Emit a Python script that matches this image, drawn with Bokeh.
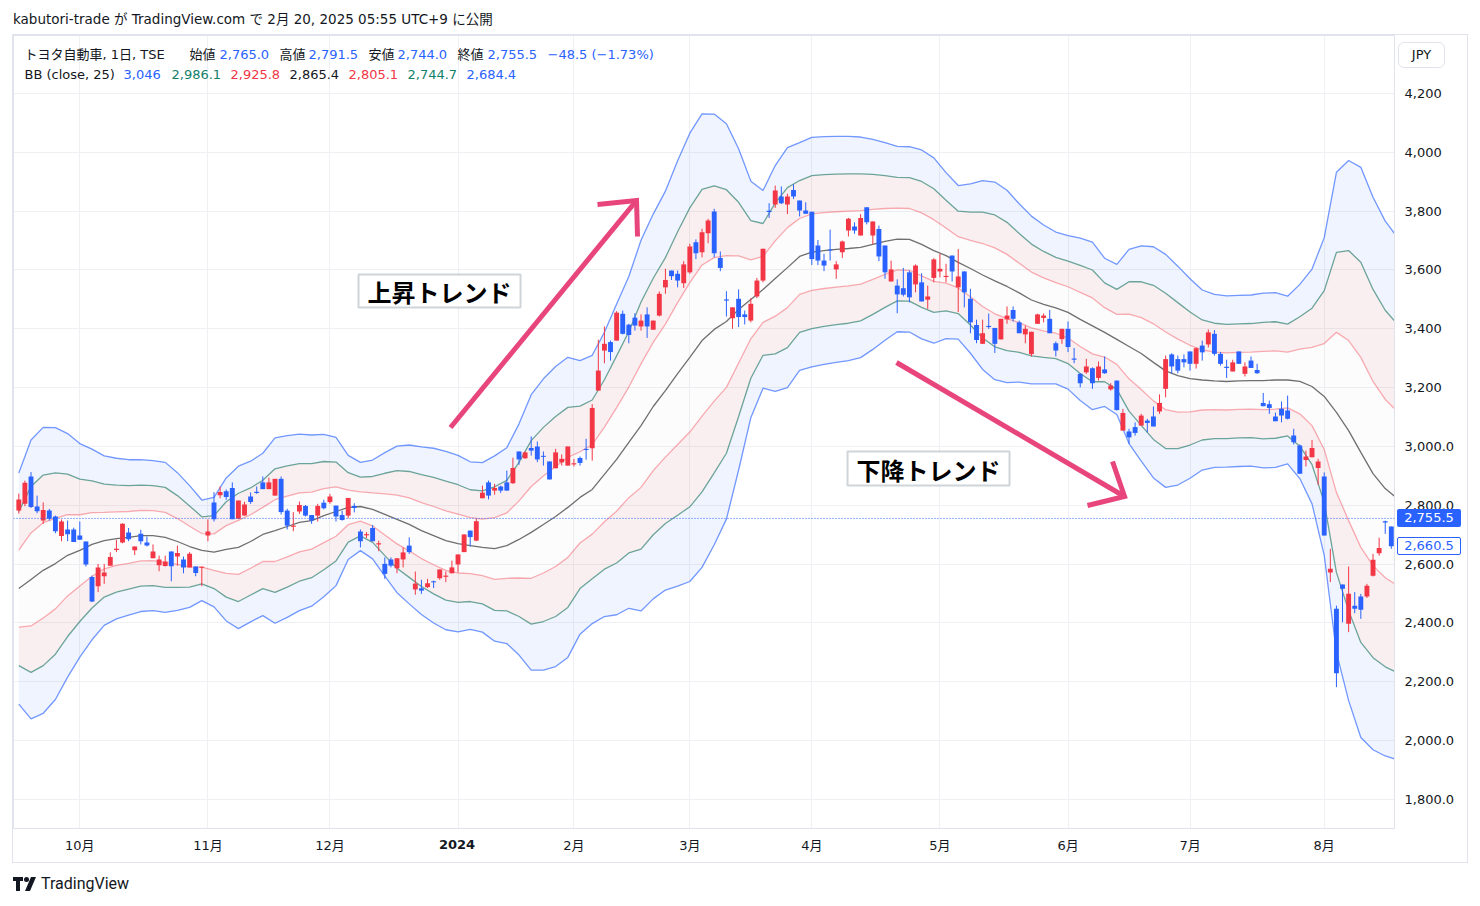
from bokeh.plotting import figure
from bokeh.models import FixedTicker, Span, Label, BoxAnnotation, Div, Range1d, ColumnDataSource
from bokeh.layouts import column
from bokeh.embed import file_html
from bokeh.resources import INLINE

# ---------------- data ----------------
month_ticks = [10, 31, 51, 72, 91, 110, 130, 151, 172, 192, 214]
month_labels = ["10月", "11月", "12月", "2024", "2月", "3月", "4月", "5月", "6月", "7月", "8月"]
price_ticks = [1800, 2000, 2200, 2400, 2600, 2800, 3000, 3200, 3400, 3600, 3800, 4000, 4200]
price_tick_labels = ["1,800.0", "2,000.0", "2,200.0", "2,400.0", "2,600.0", "2,800.0", "3,000.0",
                     "3,200", "3,400", "3,600", "3,800", "4,000", "4,200"]

opens = [2782, 2805, 2898, 2796, 2748, 2782, 2762, 2696, 2718, 2718,
         2697, 2677, 2556, 2525, 2559, 2595, 2648, 2674, 2708, 2647,
         2703, 2674, 2620, 2596, 2594, 2643, 2626, 2616, 2589, 2592,
         2588, 2697, 2810, 2834, 2848, 2859, 2754, 2765, 2830, 2846,
         2878, 2855, 2833, 2890, 2782, 2727, 2779, 2798, 2767, 2765,
         2809, 2811, 2799, 2767, 2765, 2798, 2711, 2698, 2723, 2667,
         2601, 2616, 2586, 2616, 2663, 2514, 2518, 2522, 2541, 2552,
         2557, 2569, 2599, 2641, 2714, 2680, 2824, 2878, 2850, 2864,
         2878, 2875, 2983, 2960, 2995, 3000, 2968, 2949, 2926, 2946,
         2935, 2939, 2961, 2991, 2994, 3190, 3326, 3355, 3360, 3451,
         3414, 3438, 3408, 3449, 3397, 3445, 3541, 3598, 3587, 3555,
         3592, 3694, 3660, 3725, 3799, 3641, 3500, 3436, 3502, 3449,
         3428, 3510, 3564, 3801, 3823, 3850, 3823, 3872, 3836, 3802,
         3798, 3683, 3632, 3670, 3602, 3660, 3734, 3748, 3717, 3813,
         3717, 3739, 3683, 3561, 3547, 3538, 3592, 3551, 3558, 3499,
         3573, 3595, 3576, 3649, 3541, 3595, 3502, 3413, 3349, 3410,
         3403, 3364, 3432, 3464, 3422, 3381, 3314, 3417, 3437, 3434,
         3351, 3365, 3400, 3299, 3247, 3252, 3266, 3233, 3262, 3194,
         3224, 3054, 3051, 3066, 3071, 3088, 3102, 3119, 3196, 3313,
         3297, 3297, 3323, 3281, 3343, 3347, 3383, 3315, 3271, 3255,
         3323, 3247, 3292, 3260, 3148, 3144, 3102, 3128, 3122, 3037,
         3003, 2954, 2963, 2927, 2898, 2572, 2448, 2531, 2397, 2459,
         2490, 2490, 2561, 2637, 2746, 2728, 2788]

highs = [2840, 2884, 2913, 2833, 2810, 2788, 2765, 2752, 2748, 2724,
         2745, 2677, 2561, 2601, 2601, 2640, 2683, 2739, 2723, 2660,
         2717, 2694, 2667, 2629, 2629, 2643, 2663, 2626, 2641, 2592,
         2592, 2752, 2845, 2864, 2854, 2878, 2816, 2812, 2844, 2864,
         2898, 2894, 2890, 2898, 2788, 2777, 2813, 2801, 2767, 2805,
         2819, 2839, 2799, 2782, 2825, 2807, 2718, 2709, 2733, 2680,
         2623, 2623, 2620, 2657, 2691, 2575, 2547, 2550, 2544, 2582,
         2575, 2612, 2633, 2701, 2714, 2754, 2867, 2884, 2873, 2867,
         2918, 2962, 2983, 2983, 3034, 3017, 2983, 2949, 2992, 2973,
         3000, 2958, 2966, 3026, 3144, 3363, 3408, 3360, 3460, 3462,
         3417, 3453, 3449, 3473, 3428, 3527, 3604, 3598, 3598, 3630,
         3689, 3704, 3740, 3774, 3808, 3663, 3528, 3473, 3534, 3462,
         3504, 3573, 3672, 3827, 3887, 3884, 3859, 3891, 3836, 3830,
         3798, 3702, 3655, 3737, 3630, 3700, 3777, 3762, 3790, 3813,
         3765, 3751, 3683, 3632, 3568, 3607, 3598, 3619, 3589, 3547,
         3640, 3655, 3621, 3649, 3671, 3595, 3536, 3431, 3431, 3452,
         3403, 3434, 3476, 3476, 3428, 3411, 3390, 3451, 3452, 3464,
         3357, 3400, 3425, 3335, 3249, 3298, 3269, 3289, 3306, 3215,
         3224, 3128, 3060, 3082, 3111, 3094, 3136, 3177, 3309, 3317,
         3309, 3313, 3323, 3337, 3360, 3398, 3396, 3321, 3295, 3295,
         3323, 3286, 3306, 3281, 3182, 3156, 3115, 3153, 3173, 3060,
         3007, 2986, 3022, 2958, 2912, 2652, 2459, 2531, 2592, 2505,
         2499, 2533, 2635, 2690, 2748, 2728, 2795]

lows = [2772, 2797, 2791, 2773, 2737, 2748, 2705, 2678, 2678, 2675,
        2683, 2592, 2471, 2505, 2533, 2595, 2641, 2671, 2678, 2631,
        2667, 2660, 2620, 2576, 2592, 2542, 2595, 2569, 2589, 2559,
        2525, 2678, 2745, 2824, 2819, 2753, 2753, 2765, 2805, 2839,
        2855, 2855, 2833, 2769, 2718, 2712, 2771, 2762, 2737, 2745,
        2786, 2805, 2745, 2748, 2756, 2776, 2657, 2689, 2678, 2644,
        2550, 2589, 2569, 2589, 2635, 2496, 2499, 2519, 2519, 2547,
        2539, 2569, 2572, 2641, 2660, 2678, 2824, 2820, 2836, 2842,
        2850, 2873, 2938, 2958, 2969, 2947, 2935, 2888, 2926, 2935,
        2935, 2932, 2935, 2955, 2952, 3190, 3283, 3292, 3360, 3381,
        3351, 3394, 3394, 3369, 3397, 3442, 3519, 3566, 3541, 3539,
        3587, 3637, 3643, 3691, 3643, 3596, 3442, 3400, 3406, 3415,
        3422, 3504, 3558, 3777, 3811, 3824, 3790, 3841, 3782, 3791,
        3617, 3617, 3596, 3632, 3570, 3641, 3714, 3723, 3717, 3755,
        3687, 3630, 3570, 3561, 3453, 3510, 3490, 3524, 3493, 3468,
        3558, 3575, 3558, 3561, 3457, 3473, 3385, 3351, 3349, 3400,
        3318, 3364, 3417, 3425, 3385, 3351, 3306, 3417, 3422, 3385,
        3306, 3349, 3321, 3283, 3201, 3247, 3196, 3224, 3247, 3190,
        3122, 3054, 3009, 3037, 3071, 3048, 3068, 3111, 3167, 3247,
        3249, 3269, 3258, 3265, 3292, 3337, 3309, 3275, 3233, 3255,
        3281, 3238, 3267, 3247, 3137, 3111, 3086, 3082, 3092, 3007,
        2907, 2932, 2963, 2870, 2697, 2539, 2182, 2403, 2369, 2433,
        2414, 2485, 2558, 2629, 2703, 2652, 2715]

closes = [2820, 2877, 2794, 2780, 2784, 2754, 2712, 2745, 2702, 2675,
          2683, 2599, 2473, 2589, 2572, 2624, 2652, 2737, 2685, 2660,
          2678, 2663, 2643, 2616, 2609, 2593, 2638, 2589, 2635, 2570,
          2591, 2711, 2753, 2845, 2828, 2753, 2816, 2803, 2811, 2842,
          2855, 2878, 2890, 2777, 2731, 2731, 2801, 2765, 2748, 2798,
          2790, 2830, 2762, 2750, 2825, 2791, 2678, 2702, 2678, 2671,
          2567, 2595, 2620, 2640, 2641, 2534, 2510, 2535, 2539, 2582,
          2561, 2589, 2633, 2701, 2692, 2746, 2843, 2833, 2859, 2850,
          2850, 2927, 2956, 2980, 2986, 2956, 2965, 2888, 2980, 2958,
          3000, 2943, 2944, 2989, 3131, 3258, 3349, 3321, 3455, 3383,
          3379, 3411, 3428, 3408, 3428, 3519, 3566, 3579, 3564, 3619,
          3680, 3657, 3728, 3768, 3657, 3607, 3496, 3473, 3440, 3440,
          3485, 3564, 3672, 3797, 3870, 3827, 3850, 3850, 3802, 3791,
          3637, 3632, 3615, 3666, 3619, 3697, 3774, 3734, 3777, 3762,
          3765, 3646, 3592, 3602, 3517, 3516, 3507, 3615, 3493, 3510,
          3636, 3604, 3580, 3595, 3578, 3524, 3422, 3362, 3385, 3406,
          3349, 3434, 3445, 3434, 3385, 3400, 3390, 3449, 3445, 3385,
          3326, 3400, 3338, 3295, 3215, 3272, 3215, 3272, 3249, 3207,
          3124, 3114, 3031, 3046, 3105, 3080, 3068, 3148, 3297, 3272,
          3258, 3286, 3281, 3334, 3320, 3388, 3315, 3281, 3267, 3286,
          3281, 3272, 3267, 3249, 3137, 3131, 3086, 3105, 3094, 3014,
          2907, 2966, 2995, 2949, 2697, 2584, 2229, 2516, 2499, 2448,
          2445, 2527, 2615, 2655, 2742, 2660.5, 2720]

# Bollinger band (close, 25) at every second bar
bb_index = list(range(0, 227, 2))
bb_mid = [2517, 2548, 2579, 2602, 2630, 2647, 2667, 2680, 2687, 2691,
          2697, 2697, 2691, 2677, 2660, 2647, 2641, 2650, 2657, 2677,
          2701, 2714, 2728, 2742, 2748, 2765, 2779, 2793, 2796, 2786,
          2769, 2752, 2735, 2714, 2697, 2680, 2670, 2663, 2657, 2653,
          2663, 2684, 2708, 2735, 2762, 2793, 2827, 2854, 2905, 2956,
          3014, 3071, 3136, 3190, 3248, 3303, 3360, 3398, 3425, 3466,
          3500, 3534, 3571, 3608, 3646, 3661, 3666, 3670, 3673, 3677,
          3687, 3697, 3705, 3704, 3687, 3666, 3649, 3626, 3605, 3583,
          3563, 3544, 3522, 3498, 3483, 3471, 3456, 3432, 3410, 3388,
          3364, 3340, 3316, 3286, 3257, 3241, 3231, 3226, 3223, 3221,
          3223, 3224, 3224, 3226, 3226, 3221, 3204, 3170, 3116, 3054,
          2980, 2908, 2857, 2823]
bb_sigma = [131, 158, 162, 154, 138, 121, 108, 96, 91, 88,
            86, 85, 85, 78, 69, 57, 62, 81, 92, 91,
            92, 105, 103, 100, 97, 92, 84, 59, 50, 56,
            70, 83, 90, 95, 99, 101, 100, 95, 96, 105,
            111, 131, 156, 165, 170, 170, 155, 152, 161, 176,
            188, 210, 218, 226, 241, 254, 257, 244, 224, 182,
            134, 112, 128, 136, 129, 130, 129, 128, 127, 125,
            119, 112, 105, 105, 107, 105, 94, 87, 96, 107,
            112, 109, 101, 95, 90, 86, 87, 92, 95, 84,
            85, 110, 122, 131, 132, 124, 113, 102, 98, 97,
            97, 97, 99, 99, 95, 110, 133, 180, 272, 306,
            323, 313, 303, 296]

last_price = 2755.5
marked_price = 2660.5

header_row1 = ["トヨタ自動車, 1日, TSE", "始値", "2,765.0", "高値", "2,791.5",
               "安値", "2,744.0", "終値", "2,755.5", "−48.5 (−1.73%)"]
header_row2 = ["BB (close, 25)", "3,046", "2,986.1", "2,925.8", "2,865.4",
               "2,805.1", "2,744.7", "2,684.4"]

# ---------------- styling ----------------
RED = "#f23645"
BLUE = "#2962ff"
GREEN = "#3e8a78"
TXT = "#131722"
FONT = "'DejaVu Sans', 'Noto Sans CJK JP', sans-serif"
JFONT = "'Noto Sans CJK JP', sans-serif"
HFONT = "&quot;DejaVu Sans&quot;, &quot;Noto Sans CJK JP&quot;, sans-serif"

X0, X1 = -0.87, 225.52
Y0, Y1 = 1701.4, 4397.1


def px_to_idx(x_page):
    return (x_page - 18.3) / 6.1


def py_to_price(y_page):
    return 1800 + (799 - y_page) * 3.3994


p = figure(frame_width=1381, frame_height=793,
           x_range=Range1d(X0, X1), y_range=Range1d(Y0, Y1),
           y_axis_location="right", output_backend="svg", toolbar_location=None,
           min_border_left=0, min_border_top=0, min_border_right=73, min_border_bottom=34,
           background_fill_color="white", border_fill_color="white")
p.margin = (0, 0, 0, 13)
p.styles = {"outline": "1px solid #e0e3eb"}
p.outline_line_color = "#e0e3eb"

# axes
p.yaxis.ticker = FixedTicker(ticks=price_ticks)
p.yaxis.major_label_overrides = {t: l for t, l in zip(price_ticks, price_tick_labels)}
p.xaxis.ticker = FixedTicker(ticks=month_ticks)
p.xaxis.major_label_overrides = {t: ("" if l == "2024" else l) for t, l in zip(month_ticks, month_labels)}
for ax in (p.xaxis[0], p.yaxis[0]):
    ax.axis_line_color = "#e0e3eb"
    ax.major_tick_line_color = None
    ax.minor_tick_line_color = None
    ax.major_tick_out = 0
    ax.major_label_text_font = FONT
    ax.major_label_text_font_size = "13px"
    ax.major_label_text_color = TXT
p.yaxis.major_label_standoff = 10
p.xaxis.major_label_standoff = 9
p.xgrid.grid_line_color = "#eef0f3"
p.ygrid.grid_line_color = "#eef0f3"

# Bollinger bands
bands = {k: [m + k * s for m, s in zip(bb_mid, bb_sigma)] for k in (3, 2, 1, -1, -2, -3)}
p.varea(x=bb_index, y1=bands[3], y2=bands[2], fill_color=BLUE, fill_alpha=0.07)
p.varea(x=bb_index, y1=bands[2], y2=bands[1], fill_color="#d0606f", fill_alpha=0.1)
p.varea(x=bb_index, y1=bands[1], y2=bands[-1], fill_color="#808080", fill_alpha=0.025)
p.varea(x=bb_index, y1=bands[-1], y2=bands[-2], fill_color="#d0606f", fill_alpha=0.1)
p.varea(x=bb_index, y1=bands[-2], y2=bands[-3], fill_color=BLUE, fill_alpha=0.07)
for k, col, a in ((3, BLUE, 0.65), (-3, BLUE, 0.65), (2, GREEN, 0.75), (-2, GREEN, 0.75),
                  (1, RED, 0.4), (-1, RED, 0.4)):
    p.line(bb_index, bands[k], line_color=col, line_alpha=a, line_width=1.3)
p.line(bb_index, bb_mid, line_color="#6f6f6f", line_width=1.3)

# candles
N = len(closes)
xs = list(range(N))
cols = [RED if c >= o else BLUE for o, c in zip(opens, closes)]
btop, bbot = [], []
for o, c in zip(opens, closes):
    hi, lo = max(o, c), min(o, c)
    if hi - lo < 3.5:
        mid = (hi + lo) / 2
        hi, lo = mid + 1.75, mid - 1.75
    btop.append(hi)
    bbot.append(lo)
src = ColumnDataSource(dict(x=xs, o=opens, h=highs, l=lows, c=closes, col=cols, bt=btop, bb=bbot))
p.segment(x0="x", y0="l", x1="x", y1="h", line_color="col", line_width=1, source=src)
p.vbar(x="x", width=0.8, top="bt", bottom="bb", fill_color="col", line_color=None, source=src)

# last price line
p.add_layout(Span(location=last_price, dimension="width", line_color=BLUE,
                  line_dash="1 2", line_width=1))

# arrows (trend annotations)
ARROW = "#e8457c"
a1s = (px_to_idx(450), py_to_price(427)); a1t = (px_to_idx(636), py_to_price(200))
a1h1 = (px_to_idx(597), py_to_price(204)); a1h2 = (px_to_idx(637), py_to_price(236))
p.line([a1s[0], a1t[0]], [a1s[1], a1t[1]], line_color=ARROW, line_width=5)
p.line([a1h1[0], a1t[0], a1h2[0]], [a1h1[1], a1t[1], a1h2[1]], line_color=ARROW, line_width=5,
       line_join="miter")
a2s = (px_to_idx(896), py_to_price(362)); a2t = (px_to_idx(1124), py_to_price(496))
a2h1 = (px_to_idx(1112), py_to_price(461)); a2h2 = (px_to_idx(1087), py_to_price(505))
p.line([a2s[0], a2t[0]], [a2s[1], a2t[1]], line_color=ARROW, line_width=5)
p.line([a2h1[0], a2t[0], a2h2[0]], [a2h1[1], a2t[1], a2h2[1]], line_color=ARROW, line_width=5,
       line_join="miter")

# text boxes
for (l, r, t, b, txt) in ((358, 520, 274, 307, "上昇トレンド"), (847, 1009, 451, 485, "下降トレンド")):
    p.add_layout(BoxAnnotation(left=px_to_idx(l), right=px_to_idx(r), top=py_to_price(t),
                               bottom=py_to_price(b), fill_color="white", fill_alpha=1,
                               line_color="#5f6f7f", line_width=2))
    p.add_layout(Label(x=px_to_idx((l + r) / 2), y=py_to_price((t + b) / 2 + 1), text=txt,
                       text_align="center", text_baseline="middle", text_font=JFONT,
                       text_font_size="24px", text_font_style="bold", text_color="black"))

# legend rows (inside chart)
row1_x = [24, 189, 219, 279, 308, 368, 397, 457, 487, 547]
row1_c = [TXT, TXT, BLUE, TXT, BLUE, TXT, BLUE, TXT, BLUE, BLUE]
for txt, xp, c in zip(header_row1, row1_x, row1_c):
    p.add_layout(Label(x=xp - 13, x_units="screen", y=py_to_price(54), text=txt,
                       text_baseline="middle", text_font=FONT, text_font_size="13px", text_color=c))
row2_x = [24, 123, 171, 230, 289, 348, 407, 466]
row2_c = [TXT, BLUE, "#127f6a", RED, TXT, RED, "#127f6a", BLUE]
for txt, xp, c in zip(header_row2, row2_x, row2_c):
    p.add_layout(Label(x=xp - 13, x_units="screen", y=py_to_price(74), text=txt,
                       text_baseline="middle", text_font=FONT, text_font_size="13px", text_color=c))

title_div = Div(text='<div style="padding:10px 0 0 13px;font-family:' + HFONT +
                ';font-size:13.5px;line-height:18px;color:#131722;white-space:nowrap">'
                'kabutori-trade が TradingView.com で 2月 20, 2025 05:55 UTC+9 に公開</div>',
                width=1480, height=35, margin=(0, 0, 0, 0))

# overlays placed on the price / time scales (relative to the footer's top edge at page y=862)
FOOT_TOP = 862


def box(left, top, w, h, txt, extra):
    return ('<div style="position:absolute;z-index:10;left:%dpx;top:%dpx;width:%dpx;height:%dpx;'
            'line-height:%dpx;text-align:center;font-family:%s;font-size:13px;box-sizing:border-box;%s">%s</div>'
            % (left, top - FOOT_TOP, w, h, h, HFONT, extra, txt))


overlays = (
    box(1397, 509, 64, 18, "2,755.5", "background:#2962ff;color:#ffffff;border-radius:2px;")
    + box(1397, 537, 64, 18, "2,660.5", "background:#ffffff;color:#2962ff;border:1px solid #2962ff;line-height:16px;border-radius:2px;")
    + box(1398, 42, 47, 26, "JPY", "background:#ffffff;color:#131722;border:1px solid #e0e3eb;line-height:24px;border-radius:6px;")
    + box(427, 836, 60, 18, "2024", "color:#131722;font-weight:bold;background:#ffffff;")
)

logo_svg = ('<svg width="24" height="14" viewBox="0 0 24 14" style="vertical-align:-2px;margin-right:4px">'
            '<path d="M0 0h10v4h-3v10h-4v-10h-3z" fill="#131722"/>'
            '<circle cx="13.5" cy="2.5" r="2.5" fill="#131722"/>'
            '<path d="M18 0h5l-6 14h-5z" fill="#131722"/></svg>')
footer_div = Div(text='<div style="position:relative;height:44px;width:1480px;overflow:visible">'
                 + overlays +
                 '<div style="padding:13px 0 0 13px;font-family:Roboto,sans-serif;font-size:16px;'
                 'line-height:18px;color:#131722;white-space:nowrap">' + logo_svg + 'TradingView</div></div>',
                 width=1480, height=44, margin=(0, 0, 0, 0), styles={"overflow": "visible", "z-index": "5"})

layout = column(title_div, p, footer_div, spacing=0)
open("out.html", "w").write(file_html(layout, INLINE))
